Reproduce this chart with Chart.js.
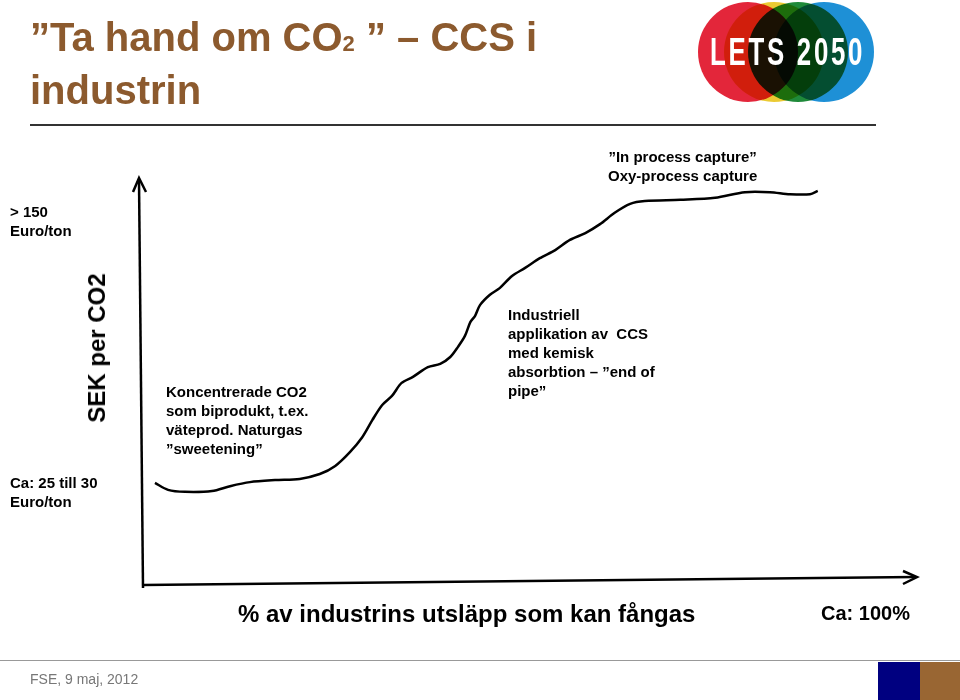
<!DOCTYPE html>
<html><head><meta charset="utf-8">
<script src="https://cdn.jsdelivr.net/npm/chart.js"></script>
<style>
body{margin:0;width:960px;height:700px;position:relative;background:#fff;font-family:"Liberation Sans",Arial,sans-serif;overflow:hidden}
.t{position:absolute;color:#000;white-space:nowrap}
.b{font-weight:bold;font-size:15px;line-height:19px}
#c{position:absolute;left:0;top:0}
.circ{position:absolute;border-radius:50%;mix-blend-mode:multiply;width:100px;height:100px;top:2px}
</style></head><body>
<div class="t" style="left:30px;top:14px;font-size:40px;font-weight:bold;color:#8c5a2e;line-height:46px;white-space:normal;width:560px">”Ta hand om CO<span style="font-size:22px">2</span> ” – CCS i industrin</div>
<div style="position:absolute;left:30px;top:124px;width:846px;height:2px;background:#333"></div>
<div style="position:absolute;left:698px;top:0;width:180px;height:104px">
<div class="circ" style="left:0;background:#e3263a"></div>
<div class="circ" style="left:26px;background:#e9c51c;opacity:.9"></div>
<div class="circ" style="left:50px;background:#1f8a3a"></div>
<div class="circ" style="left:76px;background:#1e90d6"></div>
<div class="t" style="left:12px;top:31px;font-size:38px;font-weight:bold;color:#fff;letter-spacing:4px;transform:scaleX(0.68);transform-origin:0 0">LETS 2050</div>
</div>
<canvas id="c" width="960" height="700"></canvas>
<div class="t b" style="left:608px;top:147px;text-align:center">”In process capture”<br>Oxy-process capture</div>
<div class="t b" style="left:10px;top:202px">&gt; 150<br>Euro/ton</div>
<div class="t" style="left:97px;top:348px;font-size:24px;font-weight:bold;transform:translate(-50%,-50%) rotate(-90deg)">SEK per CO2</div>
<div class="t b" style="left:10px;top:473px">Ca: 25 till 30<br>Euro/ton</div>
<div class="t b" style="left:166px;top:382px">Koncentrerade CO2<br>som biprodukt, t.ex.<br>väteprod. Naturgas<br>”sweetening”</div>
<div class="t b" style="left:508px;top:305px">Industriell<br>applikation av &nbsp;CCS<br>med kemisk<br>absorbtion – ”end of<br>pipe”</div>
<div class="t" style="left:238px;top:600px;font-size:24px;font-weight:bold">% av industrins utsläpp som kan fångas</div>
<div class="t" style="left:821px;top:602px;font-size:20px;font-weight:bold">Ca: 100%</div>
<div style="position:absolute;left:0;top:660px;width:960px;height:1px;background:#999"></div>
<div class="t" style="left:30px;top:671px;font-size:14px;color:#777">FSE, 9 maj, 2012</div>
<div style="position:absolute;left:878px;top:662px;width:42px;height:38px;background:#000080"></div>
<div style="position:absolute;left:920px;top:662px;width:40px;height:38px;background:#996633"></div>
<script>
const xValues=[1.55,3.24,5.44,8.94,11.27,13.86,17.1,20.3,22.9,24.9,26.8,28.4,29.7,30.96,32.25,33.5,34.97,36.9,38.5,39.8,40.8,41.7,42.4,43.0,43.65,44.9,46.2,47.8,49.5,51.4,53.4,55.3,57.3,59.2,61.1,63.1,65.0,69.6,74.1,77.98,81.2,83.8,86.4,87.4];
const yValues=[25.2,23.5,23.0,23.2,24.4,25.4,25.9,26.2,27.4,29.4,32.8,36.5,40.7,44.4,46.7,49.9,51.4,53.8,54.6,56.3,58.8,61.5,64.9,66.4,69.1,71.6,73.3,76.3,78.3,80.7,82.7,85.2,86.9,89.1,91.9,94.1,94.8,95.1,95.6,97.0,97.0,96.5,96.5,97.3];
const axesPlugin={id:'ax',afterDraw(ch){const c=ch.ctx,a=ch.chartArea;c.save();c.strokeStyle='#000';c.lineWidth=2.5;
c.beginPath();c.moveTo(a.left,a.bottom+3);c.lineTo(a.left-4,a.top);c.stroke();
c.beginPath();c.moveTo(a.left-10,a.top+12);c.lineTo(a.left-4,a.top-2);c.lineTo(a.left+3,a.top+12);c.stroke();
c.beginPath();c.moveTo(a.left,a.bottom);c.lineTo(a.right,a.bottom-8);c.stroke();
c.beginPath();c.moveTo(a.right-12,a.bottom-14);c.lineTo(a.right+2,a.bottom-8);c.lineTo(a.right-12,a.bottom-1);c.stroke();
c.restore();}};
new Chart(document.getElementById('c'),{type:'scatter',
data:{datasets:[{data:xValues.map((x,i)=>({x,y:yValues[i]})),showLine:true,borderColor:'#000',borderWidth:2.5,pointRadius:0,tension:0.3,fill:false}]},
options:{responsive:false,animation:false,layout:{padding:{left:143,right:45,top:180,bottom:115}},
plugins:{legend:{display:false},tooltip:{enabled:false}},
scales:{x:{type:'linear',min:0,max:100,display:false},y:{min:0,max:100,display:false}}},
plugins:[axesPlugin]});
</script>
</body></html>
